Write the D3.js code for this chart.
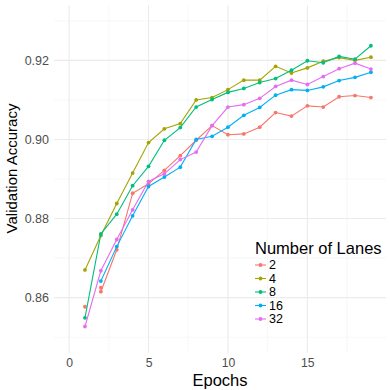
<!DOCTYPE html>
<html>
<head>
<meta charset="utf-8">
<script src="https://cdn.jsdelivr.net/npm/d3@7"></script>
<style>
  body { margin: 0; background: #fff; }
  svg { display: block; font-family: "Liberation Sans", Arial, sans-serif; }
</style>
</head>
<body>
<svg id="chart" width="390" height="390"></svg>
<script>
// DATA
const epochs = d3.range(1, 20);
const lanes = ["2", "4", "8", "16", "32"];
const colors = ["#F8766D", "#A3A500", "#00BF7D", "#00B0F6", "#E76BF3"];

const acc2 = [null, 0.8615, 0.8721, 0.8864, 0.8888, 0.8922, 0.8959, 0.8998, 0.9035, 0.9012,
              0.9014, 0.9031, 0.9068, 0.9059, 0.9085, 0.9082, 0.9108, 0.9111, 0.9106];
const acc4 = [0.8670, 0.8757, 0.8838, 0.8915, 0.8992, 0.9027, 0.9040, 0.9100, 0.9106, 0.9126,
              0.9150, 0.9150, 0.9185, 0.9168, 0.9181, 0.9198, 0.9207, 0.9200, 0.9208];
const acc8 = [0.8549, 0.8761, 0.8811, 0.8883, 0.8932, 0.8998, 0.9030, 0.9082, 0.9101, 0.9119,
              0.9129, 0.9144, 0.9154, 0.9175, 0.9199, 0.9194, 0.9210, 0.9203, 0.9237];
const acc16 = [null, 0.8642, 0.8729, 0.8807, 0.8881, 0.8905, 0.8930, 0.9000, 0.9008, 0.9031,
               0.9061, 0.9081, 0.9112, 0.9126, 0.9124, 0.9133, 0.9149, 0.9157, 0.9170];
const acc32 = [0.8527, 0.8668, 0.8747, 0.8822, 0.8894, 0.8913, 0.8949, 0.8968, 0.9035, 0.9082,
               0.9088, 0.9104, 0.9134, 0.9150, 0.9139, 0.9159, 0.9179, 0.9193, 0.9178];
// lone points of the "2" run that have no line through them
const acc2Loose = [{ epoch: 1, value: 0.8577 }, { epoch: 2, value: 0.8625 }];

const xTicks = [0, 5, 10, 15];
const yTicks = [0.86, 0.88, 0.90, 0.92];
const xLimits = [0, 19];
const yLimits = [0.85, 0.93];

const series = [acc2, acc4, acc8, acc16, acc32].map((vals, i) => ({
    lane: lanes[i],
    color: colors[i],
    values: epochs.map((e, j) => ({ epoch: e, value: vals[j] }))
}));

// SCALES
const panel = { left: 54, right: 386, top: 5, bottom: 353 };
const xPad = (xLimits[1] - xLimits[0]) * 0.05;
const yPad = (yLimits[1] - yLimits[0]) * 0.05;

const x = d3.scaleLinear()
    .domain([xLimits[0] - xPad, xLimits[1] + xPad])
    .range([panel.left, panel.right]);

const y = d3.scaleLinear()
    .domain([yLimits[0] - yPad, yLimits[1] + yPad])
    .range([panel.bottom, panel.top]);

const svg = d3.select("svg#chart");

// GRID
const grid = svg.append("g");
const xMinor = [2.5, 7.5, 12.5, 17.5];
const yMinor = [0.85, 0.87, 0.89, 0.91, 0.93];

grid.selectAll("line.xminor").data(xMinor).join("line")
    .attr("x1", d => x(d)).attr("x2", d => x(d))
    .attr("y1", panel.top).attr("y2", panel.bottom)
    .attr("stroke", "#F2F2F2").attr("stroke-width", 0.6);
grid.selectAll("line.yminor").data(yMinor).join("line")
    .attr("y1", d => y(d)).attr("y2", d => y(d))
    .attr("x1", panel.left).attr("x2", panel.right)
    .attr("stroke", "#F2F2F2").attr("stroke-width", 0.6);
grid.selectAll("line.xmajor").data(xTicks).join("line")
    .attr("x1", d => x(d)).attr("x2", d => x(d))
    .attr("y1", panel.top).attr("y2", panel.bottom)
    .attr("stroke", "#EBEBEB").attr("stroke-width", 1.1);
grid.selectAll("line.ymajor").data(yTicks).join("line")
    .attr("y1", d => y(d)).attr("y2", d => y(d))
    .attr("x1", panel.left).attr("x2", panel.right)
    .attr("stroke", "#EBEBEB").attr("stroke-width", 1.1);

// AXIS
const xAxis = g => g.attr("transform", `translate(0, ${panel.bottom})`)
    .call(d3.axisBottom(x).tickValues(xTicks).tickSize(0).tickPadding(5.5))
    .call(g => g.select(".domain").remove());

const yAxis = g => g.attr("transform", `translate(${panel.left},0)`)
    .call(d3.axisLeft(y).tickValues(yTicks).tickFormat(d3.format(".2f")).tickSize(0).tickPadding(5))
    .call(g => g.select(".domain").remove());

svg.append("g").call(xAxis)
    .selectAll("text").attr("font-size", 12.2).attr("fill", "#4D4D4D")
    .attr("font-family", "Liberation Sans, Arial, sans-serif");
svg.append("g").call(yAxis)
    .selectAll("text").attr("font-size", 12.5).attr("fill", "#4D4D4D")
    .attr("font-family", "Liberation Sans, Arial, sans-serif");

svg.append("text")
    .attr("x", (panel.left + panel.right) / 2).attr("y", 385.5)
    .attr("text-anchor", "middle").attr("font-size", 16.5).attr("fill", "#000")
    .text("Epochs");

svg.append("text")
    .attr("transform", "translate(17,168.5) rotate(-90)")
    .attr("text-anchor", "middle").attr("font-size", 15).attr("fill", "#000")
    .text("Validation Accuracy");

// LINES
const line = d3.line()
    .defined(d => d.value !== null)
    .x(d => x(d.epoch))
    .y(d => y(d.value));

const marks = svg.append("g");
series.forEach(s => {
    marks.append("path")
        .attr("d", line(s.values))
        .attr("fill", "none")
        .attr("stroke", s.color)
        .attr("stroke-width", 1.1);
    marks.selectAll(null)
        .data(s.values.filter(d => d.value !== null))
        .join("circle")
        .attr("cx", d => x(d.epoch))
        .attr("cy", d => y(d.value))
        .attr("r", 1.9)
        .attr("fill", s.color);
    if (s.lane === "2") {
        marks.selectAll(null)
            .data(acc2Loose)
            .join("circle")
            .attr("cx", d => x(d.epoch))
            .attr("cy", d => y(d.value))
            .attr("r", 1.9)
            .attr("fill", s.color);
    }
});

// LEGEND
const legend = svg.append("g").attr("transform", "translate(255,0)");
legend.append("text")
    .attr("x", 0).attr("y", 253.5)
    .attr("font-size", 16.5).attr("fill", "#000")
    .text("Number of Lanes");

const item = legend.selectAll("g.item")
    .data(series)
    .join("g")
    .attr("transform", (d, i) => `translate(0, ${265 + i * 13.5})`);
item.append("line")
    .attr("x1", 0).attr("x2", 11)
    .attr("stroke", d => d.color).attr("stroke-width", 1.1);
item.append("circle")
    .attr("cx", 5.5).attr("r", 1.9)
    .attr("fill", d => d.color);
item.append("text")
    .attr("x", 14).attr("dy", "0.35em")
    .attr("font-size", 12.5).attr("fill", "#000")
    .text(d => d.lane);
</script>
</body>
</html>
